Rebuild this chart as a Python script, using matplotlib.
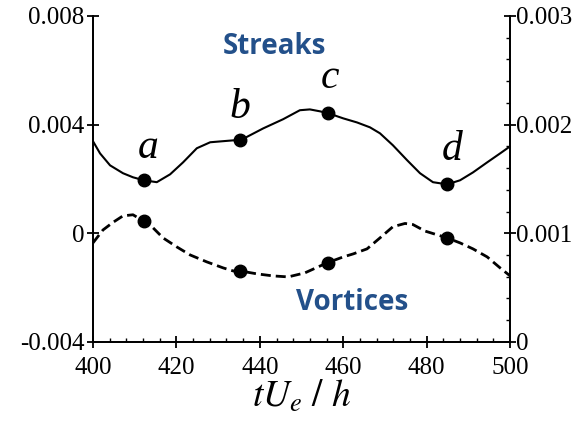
import numpy as np
import matplotlib
matplotlib.use("Agg")
import matplotlib.pyplot as plt
from matplotlib.ticker import MultipleLocator

plt.rcParams["font.family"] = "Liberation Serif"
plt.rcParams["mathtext.fontset"] = "stix"

# streak amplitude (left axis)
t_streak = [400, 401.7, 404.1, 407.2, 409.6, 412.2, 415.3, 418.5, 421.6, 424.9,
            428.1, 431.2, 433.6, 435.3, 440.8, 445.6, 449.6, 452.0, 454.4, 456.4,
            460.0, 463.3, 466.4, 468.8, 471.9, 475.3, 478.4, 481.5, 484.9, 488.0,
            491.1, 494.5, 497.6, 500]
streak = [0.00339, 0.00294, 0.00250, 0.00221, 0.00206, 0.00195, 0.00188, 0.00217,
          0.00261, 0.00313, 0.00335, 0.00339, 0.00342, 0.00342, 0.00386, 0.00420,
          0.00453, 0.00456, 0.00449, 0.00442, 0.00423, 0.00408, 0.00390, 0.00368,
          0.00324, 0.00269, 0.00221, 0.00188, 0.00180, 0.00195, 0.00224, 0.00261,
          0.00294, 0.00320]

# vortex amplitude (right axis)
t_vortex = [400, 402.4, 404.8, 407.2, 409.6, 412.2, 414.4, 416.8, 420.1, 423.3,
            427.3, 431.2, 433.6, 435.3, 439.3, 443.2, 446.8, 450.8, 456.1, 460.0,
            462.4, 465.7, 468.8, 471.9, 474.8, 476.7, 479.6, 484.9, 488.0, 491.1,
            494.5, 497.6, 500]
vortex = [0.000911, 0.00103, 0.00110, 0.00116, 0.00117, 0.00111, 0.00105, 0.000957,
          0.000874, 0.000800, 0.000736, 0.000681, 0.000653, 0.000653, 0.000626,
          0.000607, 0.000598, 0.000635, 0.000727, 0.000782, 0.000810, 0.000856,
          0.000957, 0.00106, 0.00109, 0.00108, 0.00102, 0.000957, 0.000911,
          0.000856, 0.000782, 0.000681, 0.000607]

# marked instants a-d
t_mark = [412.2, 435.3, 456.4, 484.9]
streak_mark = [0.00195, 0.00342, 0.00442, 0.00180]
vortex_mark = [0.00111, 0.000653, 0.000727, 0.000957]
mark_labels = ["a", "b", "c", "d"]

fig = plt.figure(figsize=(5.81, 4.21), dpi=100)
ax = fig.add_axes([0.160, 0.188, 0.718, 0.774])
ax2 = ax.twinx()

ax.plot(t_streak, streak, color="black", lw=1.5)
ax.plot(t_mark, streak_mark, "o", color="black", ms=9)
ax2.plot(t_vortex, vortex, color="black", lw=2, dashes=(3.6, 1.8))
ax2.plot(t_mark, vortex_mark, "o", color="black", ms=9)

ax.set_xlim(400, 500)
ax.set_ylim(-0.004, 0.008)
ax2.set_ylim(0, 0.003)

ax.set_xticks([400, 420, 440, 460, 480, 500])
ax.xaxis.set_minor_locator(MultipleLocator(4))
ax.set_yticks([-0.004, 0, 0.004, 0.008])
ax.set_yticklabels(["-0.004", "0", "0.004", "0.008"])
ax2.set_yticks([0, 0.001, 0.002, 0.003])
ax2.set_yticklabels(["0", "0.001", "0.002", "0.003"])
ax2.yaxis.set_minor_locator(MultipleLocator(0.0002))

for a in (ax, ax2):
    a.spines["top"].set_visible(False)
    for s in a.spines.values():
        s.set_linewidth(1.3)
ax.tick_params(axis="x", which="major", direction="inout", length=8, width=1.3,
               labelsize=18, pad=7)
ax.tick_params(axis="x", which="minor", direction="in", length=3, width=1)
ax.tick_params(axis="y", which="major", direction="inout", length=8, width=1.3,
               labelsize=18, pad=2)
ax2.tick_params(axis="y", which="major", direction="inout", length=8, width=1.3,
                labelsize=18, pad=0)
ax2.tick_params(axis="y", which="minor", direction="in", length=3, width=1)

ax.set_xlabel(r"$tU_{e}\ /\ h$", fontsize=27, labelpad=0)

# letters over the streak markers (baseline offset, x offset)
label_dy = [0.00081, 0.00081, 0.00092, 0.00088]
label_dx = [1.0, 0.0, 0.5, 1.2]
for t, y, lab, dx, dy in zip(t_mark, streak_mark, mark_labels, label_dx, label_dy):
    ax.text(t + dx, y + dy, lab, fontsize=30, style="italic",
            ha="center", va="baseline", family="Liberation Serif")

ax.text(0.436, 0.905, "Streaks", transform=ax.transAxes, fontsize=20,
        fontweight="bold", color="#23508a", ha="center", va="center",
        family="Open Sans")
ax.text(0.621, 0.12, "Vortices", transform=ax.transAxes, fontsize=20,
        fontweight="bold", color="#23508a", ha="center", va="center",
        family="Open Sans")

fig.savefig("out.png", dpi=100)
